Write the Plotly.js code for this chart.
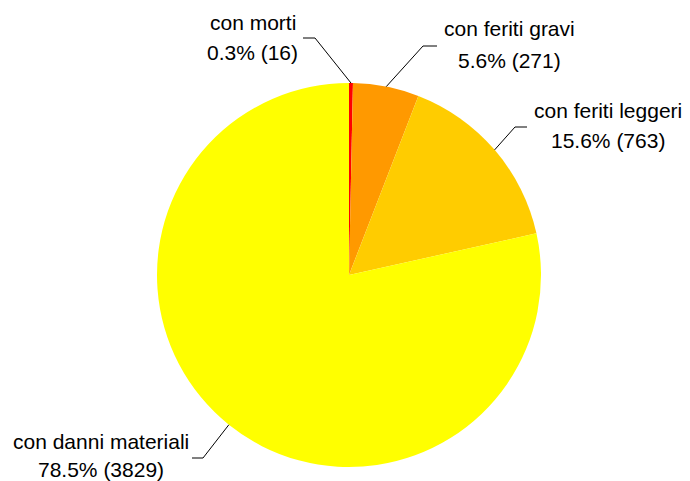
<!DOCTYPE html>
<html>
<head>
<meta charset="utf-8">
<script src="https://cdn.plot.ly/plotly-3.0.1.min.js"></script>
<style>html,body{margin:0;padding:0;background:#fff;}#chart{width:690px;height:481px;}</style>
</head>
<body>
<div id="chart"></div>
<script>
const categories = ["con morti", "con feriti gravi", "con feriti leggeri", "con danni materiali"];
const values = [16, 271, 763, 3829];
const percentLabels = ["0.3%", "5.6%", "15.6%", "78.5%"];
const colors = ["#FF0000", "#FF9900", "#FFCC00", "#FFFF00"];

const W = 690, H = 481;
const cx = 349, cy = 275, R = 192;
// label layout (pixels): line1 center, line2 center, elbow, horizontal end
const labelPos = [
  {x: 253, y1: 22, y2: 52, elbow: [315, 38], hend: [303, 38]},
  {x: 510, y1: 29, y2: 60, elbow: [423, 46], hend: [437, 46]},
  {x: 608, y1: 110, y2: 140, elbow: [515, 127], hend: [527, 127]},
  {x: 101, y1: 441, y2: 469, elbow: [203, 458], hend: [192, 458]}
];

const px = v => v / W;
const py = v => 1 - v / H;

const total = values.reduce((a, b) => a + b, 0);
const annotations = [];
const shapes = [];
let cum = 0;
const font = {family: 'Liberation Sans, Arial, sans-serif', size: 21, color: '#000'};
values.forEach((v, i) => {
  const mid = (cum + v / 2) / total * 2 * Math.PI;
  cum += v;
  const ex = cx + R * Math.sin(mid);
  const ey = cy - R * Math.cos(mid);
  const lp = labelPos[i];
  annotations.push({xref: 'paper', yref: 'paper', x: px(lp.x), y: py(lp.y1), xanchor: 'center', yanchor: 'middle',
    text: categories[i], showarrow: false, font: font});
  annotations.push({xref: 'paper', yref: 'paper', x: px(lp.x), y: py(lp.y2), xanchor: 'center', yanchor: 'middle',
    text: percentLabels[i] + ' (' + v + ')', showarrow: false, font: font});
  shapes.push({type: 'path', xref: 'paper', yref: 'paper',
    path: `M ${px(lp.hend[0])} ${py(lp.hend[1])} L ${px(lp.elbow[0])} ${py(lp.elbow[1])} L ${px(ex)} ${py(ey)}`,
    line: {color: '#000', width: 1}});
});

const data = [{
  type: 'pie',
  labels: categories,
  values: values,
  sort: false,
  direction: 'clockwise',
  rotation: 0,
  textinfo: 'none',
  hoverinfo: 'label+value+percent',
  marker: {colors: colors, line: {width: 0}},
  domain: {x: [(cx - R) / W, (cx + R) / W], y: [1 - (cy + R) / H, 1 - (cy - R) / H]},
  showlegend: false
}];

const layout = {
  width: W, height: H,
  margin: {l: 0, r: 0, t: 0, b: 0},
  paper_bgcolor: '#fff',
  showlegend: false,
  annotations: annotations,
  shapes: shapes
};

Plotly.newPlot('chart', data, layout, {displayModeBar: false, staticPlot: true});
</script>
</body>
</html>
